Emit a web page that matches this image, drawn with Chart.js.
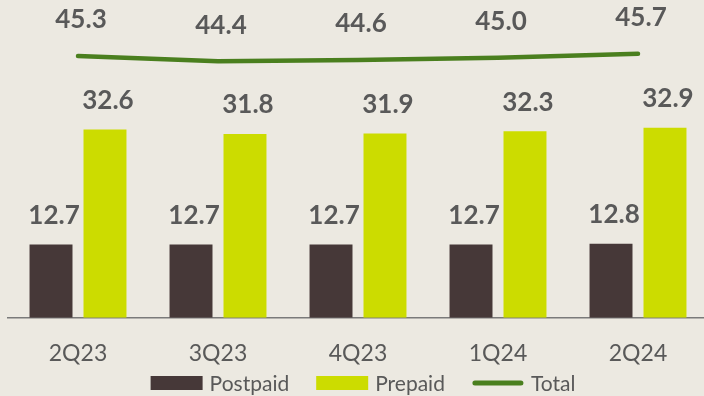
<!DOCTYPE html>
<html><head><meta charset="utf-8">
<script src="https://cdn.jsdelivr.net/npm/chart.js@4.4.1/dist/chart.umd.min.js"></script>
<style>
html,body{margin:0;padding:0;background:#ece9e1;overflow:hidden;width:704px;height:396px;}
#wrap{position:relative;width:716px;height:396px;}
canvas{display:block;}
</style></head>
<body>
<div id="wrap"><canvas id="c" width="716" height="396"></canvas></div>
<script>
const categories = ['2Q23','3Q23','4Q23','1Q24','2Q24'];
const postpaid = [12.7, 12.7, 12.7, 12.7, 12.8];
const prepaid = [32.6, 31.8, 31.9, 32.3, 32.9];
const total = [45.3, 44.4, 44.6, 45.0, 45.7];
const seriesNames = ['Postpaid','Prepaid','Total'];

const COL_POST = '#463838';
const COL_PRE = '#ccdc00';
const COL_TOT = '#4a7f1e';
const TXT = '#595959';
const FONT = 'Lato, "Open Sans", sans-serif';

const labelPlugin = {
  id: 'vals',
  afterDatasetsDraw(chart) {
    const ctx = chart.ctx;
    ctx.save();
    ctx.font = 'bold 26px ' + FONT;
    ctx.fillStyle = TXT;
    ctx.textAlign = 'center';
    ctx.textBaseline = 'middle';
    chart.data.datasets.forEach((ds, i) => {
      const meta = chart.getDatasetMeta(i);
      const off = ds.type === 'line' ? 36 : 29;
      meta.data.forEach((el, j) => {
        ctx.fillText(ds.data[j].toFixed(1), el.x + 3, el.y - off);
      });
    });
    ctx.restore();
  }
};

const legendPlugin = {
  id: 'customLegend',
  afterDraw(chart) {
    const ctx = chart.ctx;
    ctx.save();
    ctx.font = '21px ' + FONT;
    ctx.textBaseline = 'middle';
    const y = 383;
    const boxW = 52, gapT = 7, gapI = 27;
    const widths = seriesNames.map(n => ctx.measureText(n).width);
    let totalW = 0;
    widths.forEach((w, i) => { totalW += boxW + gapT + w + (i < widths.length - 1 ? gapI : 0); });
    let x = 363 - totalW / 2;
    chart.data.datasets.forEach((ds, i) => {
      if (ds.type === 'line') {
        ctx.strokeStyle = ds.borderColor;
        ctx.lineWidth = 5;
        ctx.lineCap = 'round';
        ctx.beginPath();
        ctx.moveTo(x + 3, y);
        ctx.lineTo(x + boxW - 3, y);
        ctx.stroke();
      } else {
        ctx.fillStyle = ds.backgroundColor;
        ctx.fillRect(x, y - 7, boxW, 14);
      }
      ctx.fillStyle = TXT;
      ctx.textAlign = 'left';
      ctx.fillText(seriesNames[i], x + boxW + gapT, y + 1);
      x += boxW + gapT + widths[i] + gapI;
    });
    ctx.restore();
  }
};

new Chart(document.getElementById('c'), {
  data: {
    labels: categories,
    datasets: [
      { type: 'bar', label: seriesNames[0], data: postpaid, backgroundColor: COL_POST,
        categoryPercentage: 0.771, barPercentage: 0.796, order: 2 },
      { type: 'bar', label: seriesNames[1], data: prepaid, backgroundColor: COL_PRE,
        categoryPercentage: 0.771, barPercentage: 0.796, order: 2 },
      { type: 'line', label: seriesNames[2], data: total, borderColor: COL_TOT,
        backgroundColor: COL_TOT, borderWidth: 4.5, pointRadius: 0, tension: 0,
        borderCapStyle: 'round', borderJoinStyle: 'round', order: 1 }
    ]
  },
  options: {
    responsive: false,
    animation: false,
    devicePixelRatio: 1,
    layout: { padding: { left: 8, right: 8, top: 0, bottom: 14 } },
    plugins: { legend: { display: false }, tooltip: { enabled: false } },
    scales: {
      x: {
        grid: { display: false },
        border: { display: true, color: '#7a7a7a', width: 1.5 },
        ticks: { color: TXT, font: { family: FONT, size: 23 }, padding: 14.3 }
      },
      y: { display: false, min: 0, max: 55 }
    }
  },
  plugins: [labelPlugin, legendPlugin]
});
</script>
</body></html>
